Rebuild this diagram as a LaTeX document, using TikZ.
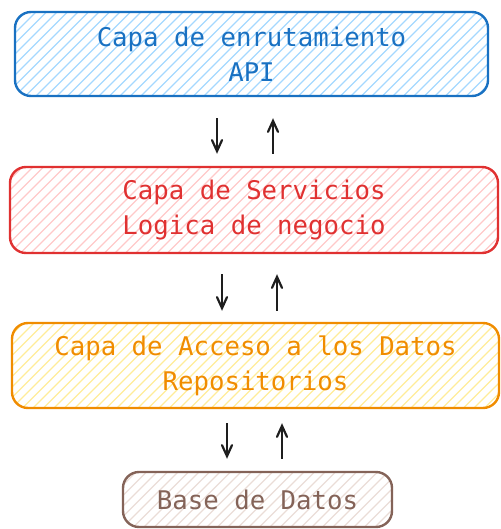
\documentclass[tikz,border=0pt]{standalone}
\usepackage{fontspec}
\setmonofont{DejaVu Sans Mono}
\usetikzlibrary{arrows.meta}
\definecolor{cblue}{HTML}{1971C2}
\definecolor{cbluefill}{HTML}{A5D8FF}
\definecolor{cred}{HTML}{E03131}
\definecolor{credfill}{HTML}{FFC9C9}
\definecolor{corange}{HTML}{F08C00}
\definecolor{corangefill}{HTML}{FFEC99}
\definecolor{cbrown}{HTML}{846358}
\definecolor{cbrownfill}{HTML}{EADDD7}
\definecolor{cink}{HTML}{1E1E1E}
\tikzset{
  layer/.style 2 args={draw=#1, text=#1, line width=2.4pt, rounded corners=16pt, align=center,
    font=\ttfamily\fontsize{25.7}{35}\selectfont, inner sep=0pt,
    path picture={\foreach \k in {-12,...,52}
      \draw[#2, line width=1.3pt] (path picture bounding box.south west) ++(\k*10.5pt,0) -- ++(110pt,110pt);}},
  flow/.style={draw=cink, line width=2.2pt, -{Straight Barb[length=11pt,width=10pt,line cap=round]}}
}

\begin{document}
\begin{tikzpicture}[x=1pt,y=-1pt]
    \useasboundingbox (0,0) rectangle (500,529);
    \node[layer={cblue}{cbluefill}, minimum width=473pt, minimum height=84pt] (api) at (251.5,54)
      {Capa de enrutamiento\\API}; % blue layer
    \node[layer={cred}{credfill}, minimum width=488pt, minimum height=86pt] (serv) at (254,210)
      {Capa de Servicios\\Logica de negocio}; % red layer
    \node[layer={corange}{corangefill}, minimum width=487pt, minimum height=85pt] (acceso) at (255.5,365.5)
      {Capa de Acceso a los Datos\\Repositorios}; % orange layer
    \node[layer={cbrown}{cbrownfill}, minimum width=269pt, minimum height=55pt] (bd) at (257.5,499.5)
      {Base de Datos}; % brown box
    % arrows between layers
    \draw[flow, shorten <=21pt, shorten >=12pt] ([xshift=-34.5pt]api.south) -- ([xshift=-34.5pt]api.south |- serv.north);
    \draw[flow, shorten <=12pt, shorten >=21pt] ([xshift=21.5pt]api.south |- serv.north) -- ([xshift=21.5pt]api.south);
    \draw[flow, shorten <=20pt, shorten >=11pt] ([xshift=-32pt]serv.south) -- ([xshift=-32pt]serv.south |- acceso.north);
    \draw[flow, shorten <=11pt, shorten >=20pt] ([xshift=23pt]serv.south |- acceso.north) -- ([xshift=23pt]serv.south);
    \draw[flow, shorten <=14pt, shorten >=12pt] ([xshift=-28.5pt]acceso.south) -- ([xshift=-28.5pt]acceso.south |- bd.north);
    \draw[flow, shorten <=12pt, shorten >=14pt] ([xshift=26.5pt]acceso.south |- bd.north) -- ([xshift=26.5pt]acceso.south);
\end{tikzpicture}
\end{document}
